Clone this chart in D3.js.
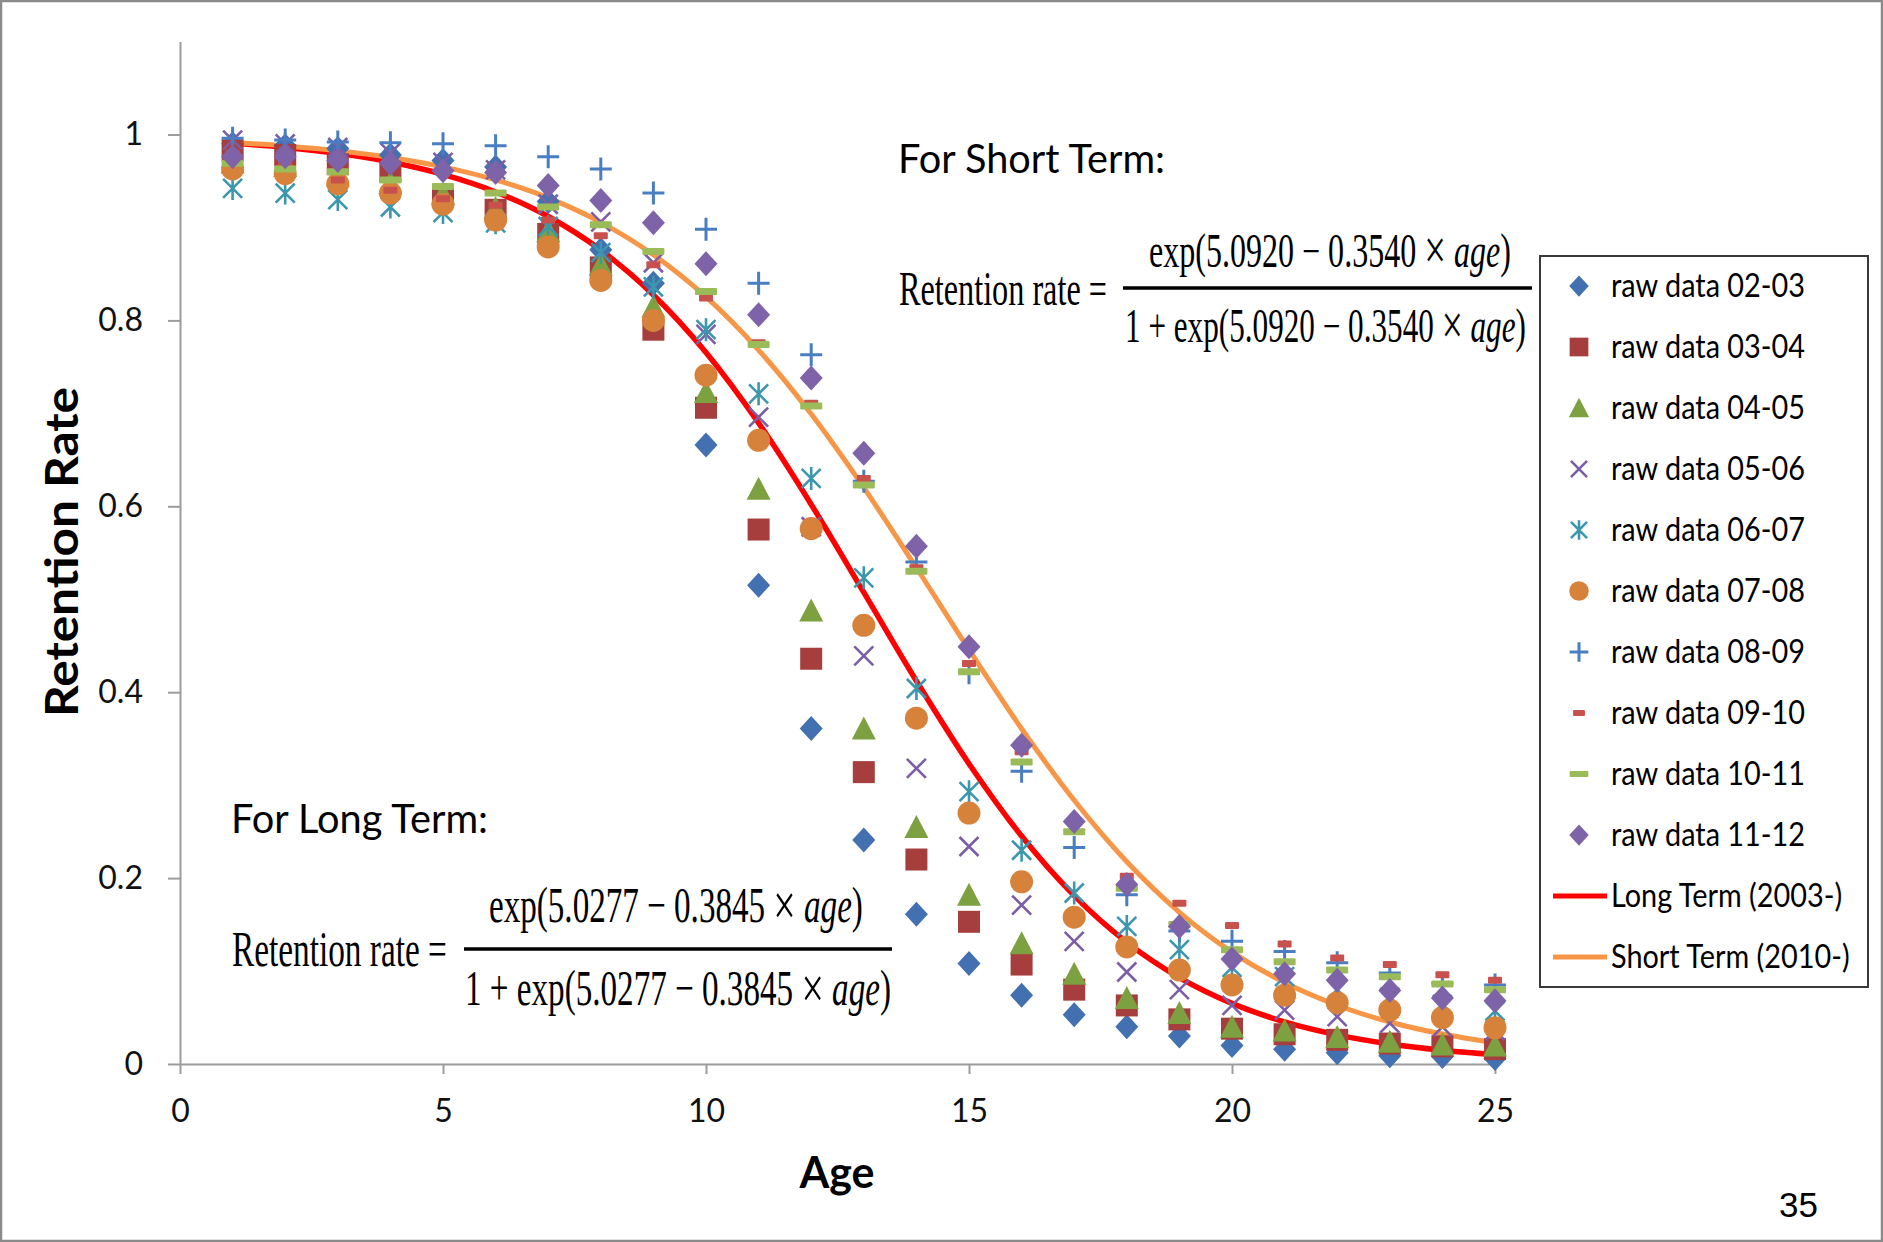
<!DOCTYPE html>
<html>
<head>
<meta charset="utf-8">
<script src="https://cdn.jsdelivr.net/npm/d3@7"></script>
<style>
  html, body { margin: 0; padding: 0; background: #fff; }
  svg { display: block; }
</style>
</head>
<body>
<script>
// ---------------- DATA ----------------
const ages = [1,2,3,4,5,6,7,8,9,10,11,12,13,14,15,16,17,18,19,20,21,22,23,24,25];

const seriesNames = ["raw data 02-03","raw data 03-04","raw data 04-05","raw data 05-06","raw data 06-07",
                     "raw data 07-08","raw data 08-09","raw data 09-10","raw data 10-11","raw data 11-12"];

const raw0203 = [0.990,0.988,0.985,0.978,0.972,0.965,0.928,0.876,0.840,0.666,0.515,0.361,0.241,0.161,0.108,0.074,0.053,0.040,0.030,0.020,0.016,0.012,0.009,0.008,0.006];
const raw0304 = [0.983,0.978,0.968,0.960,0.935,0.919,0.893,0.857,0.790,0.706,0.575,0.436,0.314,0.220,0.153,0.107,0.080,0.063,0.048,0.038,0.032,0.026,0.022,0.019,0.016];
const raw0405 = [0.970,0.966,0.956,0.948,0.936,0.921,0.896,0.860,0.815,0.723,0.619,0.488,0.361,0.255,0.182,0.130,0.097,0.071,0.055,0.040,0.036,0.029,0.024,0.021,0.020];
const raw0506 = [0.994,0.990,0.986,0.980,0.970,0.962,0.925,0.906,0.862,0.785,0.696,0.578,0.439,0.318,0.234,0.171,0.132,0.099,0.080,0.063,0.058,0.051,0.044,0.040,0.036];
const raw0607 = [0.942,0.937,0.930,0.922,0.916,0.905,0.901,0.873,0.836,0.790,0.721,0.630,0.523,0.404,0.293,0.230,0.184,0.148,0.123,0.104,0.094,0.080,0.072,0.064,0.057];
const raw0708 = [0.963,0.958,0.947,0.937,0.925,0.908,0.879,0.843,0.800,0.741,0.671,0.576,0.472,0.372,0.270,0.196,0.158,0.126,0.101,0.085,0.074,0.066,0.058,0.050,0.039];
const raw0809 = [0.996,0.994,0.992,0.991,0.990,0.988,0.976,0.963,0.937,0.898,0.840,0.763,0.627,0.540,0.421,0.315,0.233,0.182,0.143,0.132,0.121,0.109,0.098,0.087,0.085];
const raw0910 = [0.980,0.968,0.951,0.940,0.931,0.924,0.908,0.891,0.860,0.824,0.776,0.711,0.630,0.534,0.431,0.336,0.259,0.202,0.173,0.149,0.129,0.114,0.107,0.096,0.090];
const raw1011 = [0.969,0.963,0.960,0.951,0.944,0.937,0.922,0.903,0.874,0.831,0.774,0.708,0.623,0.530,0.422,0.325,0.250,0.189,0.150,0.123,0.110,0.101,0.094,0.086,0.080];
const raw1112 = [0.976,0.976,0.972,0.969,0.961,0.959,0.945,0.929,0.905,0.861,0.806,0.738,0.657,0.557,0.449,0.343,0.261,0.193,0.148,0.113,0.097,0.090,0.079,0.071,0.068];

// fitted curves (values of the printed logistic fits at each age)
const longTermFit  = [0.9905,0.9861,0.9797,0.9704,0.9571,0.9382,0.9118,0.8757,0.8274,0.7655,0.6896,0.6020,0.5073,0.4121,0.3231,0.2452,0.1811,0.1309,0.0930,0.0652,0.0453,0.0313,0.0215,0.0148,0.0101];
const shortTermFit = [0.9913,0.9877,0.9825,0.9753,0.9652,0.9511,0.9318,0.9055,0.8706,0.8252,0.7681,0.6993,0.6201,0.5339,0.4457,0.3607,0.2837,0.2175,0.1632,0.1204,0.0877,0.0632,0.0452,0.0322,0.0228];
const lineNames = ["Long Term (2003-)","Short Term (2010-)"];

const xTicks = [0,5,10,15,20,25];
const yTicks = [0,0.2,0.4,0.6,0.8,1];

// ---------------- STYLE ----------------
const rawSeries = [raw0203,raw0304,raw0405,raw0506,raw0607,raw0708,raw0809,raw0910,raw1011,raw1112];
const markerTypes = ["diamond","square","triangle","x","star","circle","plus","dashS","dashL","diamond"];
const markerColors = ["#4270B0","#A53E3C","#7DA140","#7B5EA6","#3C97AE","#D6823A","#4A7EC2","#C8504D","#9BBB59","#7E63A8"];
const lineColors = ["#FF0000","#F79646"];

const W = 1883, H = 1242;
const FONT = "Lato, 'Open Sans', 'Liberation Sans', sans-serif";
const SERIF = "'Liberation Serif', 'DejaVu Serif', serif";

const svg = d3.select("body").append("svg").attr("width", W).attr("height", H);
svg.append("rect").attr("width", W).attr("height", H).attr("fill", "#fff");
svg.append("rect").attr("x", 1).attr("y", 1).attr("width", W - 2).attr("height", H - 2)
  .attr("fill", "none").attr("stroke", "#8a8a8a").attr("stroke-width", 2.5);

const x = d3.scaleLinear().domain([0, 25]).range([180, 1495]);
const y = d3.scaleLinear().domain([0, 1.1]).range([1064, 1064 - 1.1 * 929.5]);

// axes
const gx = svg.append("g").attr("transform", `translate(0,${y(0)})`)
  .call(d3.axisBottom(x).tickValues(xTicks).tickFormat(d3.format("d")).tickSize(10).tickSizeOuter(0).tickPadding(25));
const gy = svg.append("g").attr("transform", `translate(${x(0)},0)`)
  .call(d3.axisLeft(y).tickValues(yTicks).tickFormat(d => d === 0 || d === 1 ? String(d) : d3.format(".1f")(d)).tickSize(12).tickSizeOuter(0).tickPadding(25));
[gx, gy].forEach(g => {
  g.selectAll("path.domain").attr("stroke", "#9c9c9c").attr("stroke-width", 2);
  g.selectAll(".tick line").attr("stroke", "#9c9c9c").attr("stroke-width", 2);
  g.selectAll(".tick text").attr("fill", "#111").attr("font-family", FONT).attr("font-size", 32);
});

function placeText(parent, x0, yb, targetW, build) {
  const g = parent.append("g");
  const t = g.append("text").attr("x", 0).attr("y", 0);
  build(t);
  const w = t.node().getBBox().width;
  const s = targetW / w;
  g.attr("transform", `translate(${x0},${yb}) scale(${s},1)`);
  return g;
}

// axis titles
const yt = svg.append("g").attr("transform", "translate(78,552) rotate(-90)");
yt.append("text").attr("text-anchor", "middle").attr("font-family", FONT).attr("font-weight", "bold")
  .attr("font-size", 46).attr("fill", "#000").text("Retention Rate")
  .attr("textLength", 330).attr("lengthAdjust", "spacingAndGlyphs");

svg.append("text").attr("x", 837).attr("y", 1188).attr("text-anchor", "middle").attr("font-family", FONT)
  .attr("font-weight", "bold").attr("font-size", 44).attr("fill", "#000").text("Age")
  .attr("textLength", 75).attr("lengthAdjust", "spacingAndGlyphs");

// fitted lines (drawn beneath the markers)
const lineGen = d3.line().x((d, i) => x(ages[i])).y(d => y(d)).curve(d3.curveMonotoneX);
[longTermFit, shortTermFit].forEach((vals, k) => {
  svg.append("path").datum(vals).attr("d", lineGen).attr("fill", "none")
    .attr("stroke", lineColors[k]).attr("stroke-width", k === 0 ? 5.5 : 5).attr("stroke-linejoin", "round");
});

// markers
function drawMarker(g, type, color, s) {
  s = s || 1;
  switch (type) {
    case "diamond":
      g.append("path").attr("d", `M0,${-12.5*s} L${11.5*s},0 L0,${12.5*s} L${-11.5*s},0 Z`).attr("fill", color); break;
    case "square":
      g.append("rect").attr("x", -11*s).attr("y", -11*s).attr("width", 22*s).attr("height", 22*s).attr("fill", color); break;
    case "triangle":
      g.append("path").attr("d", `M0,${-12*s} L${12*s},${11*s} L${-12*s},${11*s} Z`).attr("fill", color); break;
    case "x":
      g.append("path").attr("d", `M${-9.5*s},${-9.5*s} L${9.5*s},${9.5*s} M${-9.5*s},${9.5*s} L${9.5*s},${-9.5*s}`)
        .attr("stroke", color).attr("stroke-width", 2.6).attr("fill", "none"); break;
    case "star":
      g.append("path").attr("d", `M${-9.5*s},${-9.5*s} L${9.5*s},${9.5*s} M${-9.5*s},${9.5*s} L${9.5*s},${-9.5*s} M0,${-11.5*s} L0,${11.5*s}`)
        .attr("stroke", color).attr("stroke-width", 2.6).attr("fill", "none"); break;
    case "circle":
      g.append("circle").attr("r", 11.5*s).attr("fill", color); break;
    case "plus":
      g.append("path").attr("d", `M${-11*s},0 L${11*s},0 M0,${-11.5*s} L0,${11.5*s}`)
        .attr("stroke", color).attr("stroke-width", 3).attr("fill", "none"); break;
    case "dashS":
      g.append("rect").attr("x", -7*s).attr("y", -3.5*s).attr("width", 14*s).attr("height", 7*s).attr("rx", 1).attr("fill", color); break;
    case "dashL":
      g.append("rect").attr("x", -11*s).attr("y", -3.5*s).attr("width", 22*s).attr("height", 7*s).attr("rx", 1).attr("fill", color); break;
  }
}

rawSeries.forEach((vals, k) => {
  const g = svg.append("g");
  g.selectAll("g").data(vals).join("g")
    .attr("transform", (d, i) => `translate(${x(ages[i])},${y(d)})`)
    .each(function () { drawMarker(d3.select(this), markerTypes[k], markerColors[k], 1); });
});

// annotations
function plainLabel(x0, yb, str, w) {
  svg.append("text").attr("x", x0).attr("y", yb).attr("font-family", FONT).attr("font-size", 41)
    .attr("fill", "#000").text(str).attr("textLength", w).attr("lengthAdjust", "spacingAndGlyphs");
}
plainLabel(898, 173, "For Short Term:", 267);
plainLabel(231, 833, "For Long Term:", 257);

function formula(cfg) {
  const fs = cfg.fs;
  placeText(svg, cfg.lhsX, cfg.lhsY, cfg.lhsW, t => {
    t.attr("font-family", SERIF).attr("font-size", fs).attr("fill", "#000").text("Retention rate =");
  });
  const build = (t, prefix) => {
    t.attr("font-family", SERIF).attr("font-size", fs).attr("fill", "#000");
    t.append("tspan").text(`${prefix}exp(${cfg.a} − ${cfg.b} `);
    t.append("tspan").attr("font-size", fs * 1.2).attr("dy", fs * 0.05).text("×");
    t.append("tspan").attr("dy", -fs * 0.05).text(" ");
    t.append("tspan").attr("font-style", "italic").text("age");
    t.append("tspan").text(")");
  };
  placeText(svg, cfg.numX, cfg.numY, cfg.numW, t => build(t, ""));
  svg.append("line").attr("x1", cfg.barX1).attr("x2", cfg.barX2).attr("y1", cfg.barY).attr("y2", cfg.barY)
    .attr("stroke", "#000").attr("stroke-width", 3.5);
  placeText(svg, cfg.denX, cfg.denY, cfg.denW, t => build(t, "1 + "));
}
formula({ a: "5.0920", b: "0.3540", fs: 48,
  lhsX: 899, lhsY: 305, lhsW: 208,
  numX: 1149, numY: 267, numW: 362,
  barX1: 1123, barX2: 1532, barY: 288,
  denX: 1125, denY: 342, denW: 401 });
formula({ a: "5.0277", b: "0.3845", fs: 50,
  lhsX: 232, lhsY: 966, lhsW: 215,
  numX: 489, numY: 922, numW: 374,
  barX1: 464, barX2: 892, barY: 949,
  denX: 465, denY: 1005, denW: 426 });

// legend
const lg = svg.append("g");
lg.append("rect").attr("x", 1540).attr("y", 256).attr("width", 328).attr("height", 731)
  .attr("fill", "#fff").attr("stroke", "#3a3a3a").attr("stroke-width", 2);
const legendItems = seriesNames.map((n, k) => ({ name: n, kind: "marker", k }))
  .concat(lineNames.map((n, k) => ({ name: n, kind: "line", k })));
let scaleK = null;
legendItems.forEach((it, i) => {
  const cy = 286 + i * 61;
  if (it.kind === "marker") {
    const mg = lg.append("g").attr("transform", `translate(1579,${cy})`);
    drawMarker(mg, markerTypes[it.k], markerColors[it.k], 0.85);
  } else {
    lg.append("line").attr("x1", 1553).attr("x2", 1607).attr("y1", cy).attr("y2", cy)
      .attr("stroke", lineColors[it.k]).attr("stroke-width", 5);
  }
  const t = lg.append("text").attr("x", 1611).attr("y", cy + 11).attr("font-family", FONT)
    .attr("font-size", 32).attr("fill", "#000").text(it.name);
  const w = t.node().getComputedTextLength();
  if (scaleK === null) scaleK = 194 / w;
  t.attr("textLength", w * scaleK).attr("lengthAdjust", "spacingAndGlyphs");
});

// page number
svg.append("text").attr("x", 1818).attr("y", 1217).attr("text-anchor", "end")
  .attr("font-family", "'Liberation Sans', Arial, sans-serif").attr("font-size", 35).attr("fill", "#000").text("35");
</script>
</body>
</html>
